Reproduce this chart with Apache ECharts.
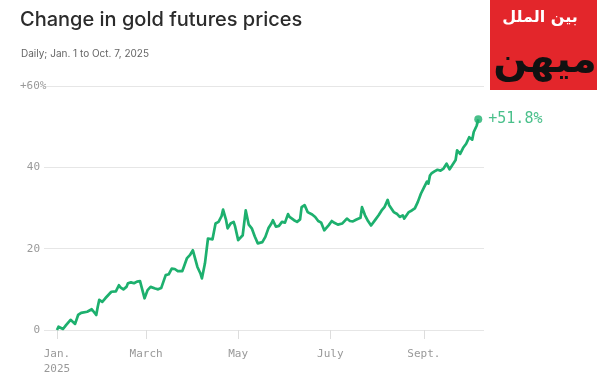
<!DOCTYPE html>
<html>
<head>
<meta charset="utf-8">
<script src="https://cdn.jsdelivr.net/npm/echarts@6/dist/echarts.min.js"></script>
<style>html,body{margin:0;padding:0;background:#fff;}#c{width:598px;height:386px;}</style>
</head>
<body>
<div id="c"></div>
<script>
// Day of year (0 = Jan. 1, 2025)
const days = [0,1,2,4,6,9,10,12,14,16,17,20,21,23,24,26,27,28,30,32,34,36,37,39,41,42,44,46,47,49,51,53,55,56,58,60,62,63,65,67,69,72,74,76,78,80,83,84,86,88,90,91,93,95,96,98,100,103,105,107,109,110,112,113,115,117,118,120,123,125,127,129,131,133,136,138,140,142,143,145,147,149,151,153,154,157,159,161,162,164,166,169,171,173,175,177,180,182,184,186,189,192,194,196,198,201,202,204,206,208,211,213,215,217,219,220,223,225,227,229,230,233,235,237,239,241,243,245,246,247,248,250,252,254,256,258,260,261,264,265,267,269,271,273,275,276,278,279];
// Percent change since Jan. 1
const changes = [0,0.8,0.4,0.25,1.2,2.5,2.6,1.5,3.7,4.2,3.9,4.5,4.7,5.1,4.7,3.7,5.7,7.4,6.9,7.8,8.6,9.4,9.2,9.5,11,10.5,10,10.6,11.5,11.7,11.5,11.9,12,10.6,7.8,9.8,10.6,10.6,10.2,10,10.3,13.5,13.7,15.1,15,14.5,14.5,15.5,17.6,18.4,19.6,19.2,15.5,13.9,12.7,16.4,22.5,22.3,26.2,26.6,28,29.6,27,25,26.2,26.6,25.4,22.1,23.3,29.4,25.9,25,23,21.3,21.6,22.9,25,26.2,27,25.4,25.6,26.6,26.4,28.5,27.8,27,26.6,27.2,30.2,30.7,29,28.4,27.8,26.8,26.4,24.5,25.8,26.8,26.3,25.9,26.2,27.4,26.8,26.7,27.1,27.6,30.2,28.2,26.8,25.7,27.2,28.2,29.4,30.3,32,30.7,29,28.6,27.8,28.2,27.4,29,29.4,29.9,31.5,33.5,35,36.5,36,38,38.5,39,39.4,39.2,39.7,40.9,39.5,40.1,41.8,44.2,43.3,44.8,45.8,47.4,46.8,48.7,50.3,51.8];
// X tick positions (day of year) and labels
const monthTicks = [0,59,120,181,243];
const monthLabels = ['Jan.\n2025','March','May','July','Sept.'];
const endLabel = '+51.8%';

const green = '#1db06e';
const mono = '"DejaVu Sans Mono", "Liberation Mono", monospace';
const chart = echarts.init(document.getElementById('c'), null, {renderer:'canvas'});
const lineData = days.map((d,i)=>[d, changes[i]]);
const last = lineData[lineData.length-1];

chart.setOption({
  animation:false,
  backgroundColor:'#fff',
  title:[
    {text:'Change in gold futures prices', left:15, top:5,
     textStyle:{fontFamily:'Inter, "Noto Sans", sans-serif', fontSize:20, fontWeight:500, color:'#2b2b2b'}},
    {text:'Daily; Jan. 1 to Oct. 7, 2025', left:16, top:44,
     textStyle:{fontFamily:'Inter, "Noto Sans", sans-serif', fontSize:10, fontWeight:400, color:'#666'}}
  ],
  grid:{left:44, right:114, top:86, bottom:56, containLabel:false},
  xAxis:{
    type:'value', min:-8.6, max:282.8,
    axisLine:{show:false},
    splitLine:{show:false},
    axisTick:{show:true, length:9, lineStyle:{color:'#ddd', width:1}, customValues:monthTicks},
    axisLabel:{
      customValues:monthTicks,
      formatter:(v)=>monthLabels[monthTicks.indexOf(v)],
      fontFamily:mono, fontSize:11, color:'#999', margin:17, lineHeight:15
    }
  },
  yAxis:{
    type:'value', min:0, max:60, interval:20,
    axisLine:{show:false}, axisTick:{show:false},
    splitLine:{lineStyle:{color:'#e6e6e6', width:1}},
    axisLabel:{fontFamily:mono, fontSize:11, color:'#999', margin:4,
      formatter:(v)=> v===60 ? '{w|+60%}' : String(v),
      rich:{w:{width:20, align:'left', fontFamily:mono, fontSize:11, color:'#999'}}}
  },
  series:[
    {type:'line', data:lineData, showSymbol:false, smooth:false,
     lineStyle:{color:green, width:2.7, join:'round'}, z:3},
    {type:'scatter', data:[last], symbolSize:8, itemStyle:{color:green}, z:4,
     label:{show:true, position:'right', distance:6, formatter:endLabel,
       fontFamily:mono, fontSize:15, color:green}}
  ],
  graphic:[
    {type:'rect', shape:{x:490, y:0, width:107, height:90}, style:{fill:'#e3262b'}, z:10},
    {type:'text', x:540, y:18, style:{text:'بین الملل', fill:'#fff', font:'bold 16px "DejaVu Sans"', textAlign:'center', textVerticalAlign:'middle'}, z:11},
    {type:'text', x:545, y:62, style:{text:'میهن', fill:'#111', font:'bold 40px "DejaVu Sans"', textAlign:'center', textVerticalAlign:'middle'}, z:11}
  ]
});
</script>
</body>
</html>
